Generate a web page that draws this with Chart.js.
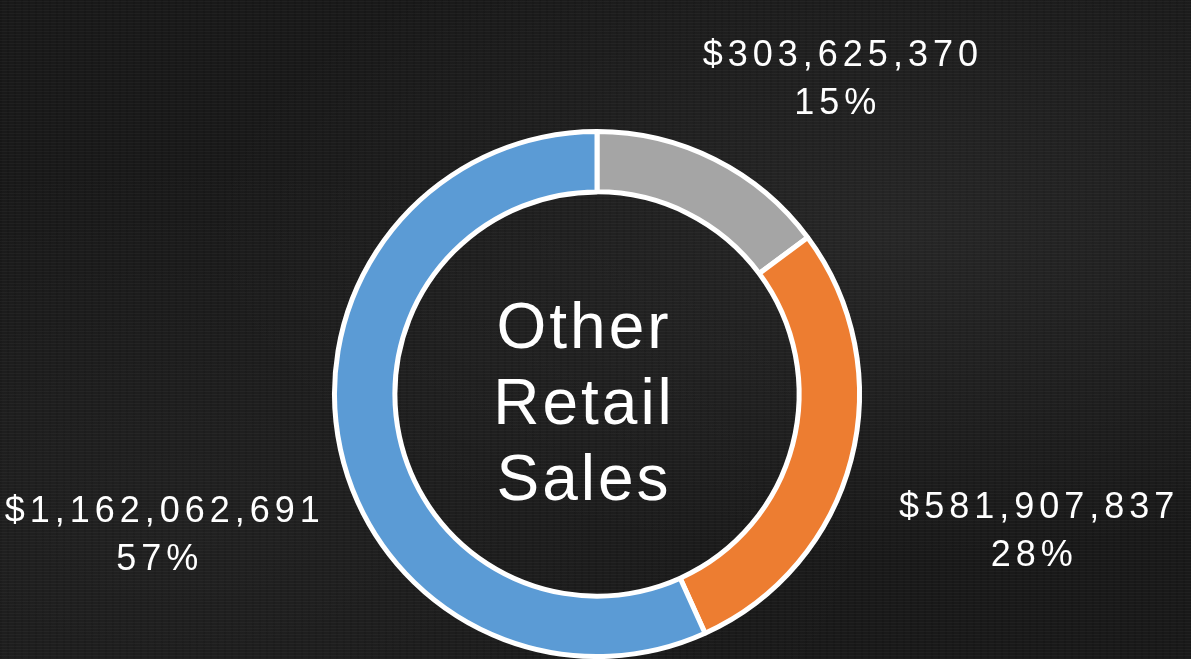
<!DOCTYPE html>
<html>
<head>
<meta charset="utf-8">
<script src="https://cdn.jsdelivr.net/npm/chart.js@4"></script>
<style>
  html, body { margin: 0; padding: 0; }
  body {
    width: 1191px; height: 659px; overflow: hidden;
    background-color: #191919;
    background-image:
      radial-gradient(ellipse at 75% 35%, rgba(255,255,255,0.06), transparent 55%),
      radial-gradient(ellipse at 15% 80%, rgba(255,255,255,0.035), transparent 50%),
      repeating-linear-gradient(0deg, rgba(255,255,255,0.03) 0 1px, transparent 1px 3px),
      repeating-linear-gradient(90deg, rgba(0,0,0,0.1) 0 2px, transparent 2px 7px);
  }
  #wrap { position: absolute; left: 0; top: 0; width: 1191px; height: 659px; }
</style>
</head>
<body>
<div id="wrap"><canvas id="myChart"></canvas></div>
<script>
// data
var labels = ["Gray", "Orange", "Blue"];
var values = [303625370, 581907837, 1162062691];
var colors = ["#A5A5A5", "#ED7D31", "#5B9BD5"];
var centerLines = ["Other", "Retail", "Sales"];

// label placement (angle nudge in degrees, distance in outer radii)
var labelNudge = [10.8, 2.5, -5.5];
var labelDist = [1.52, 1.75, 1.74];

var total = values.reduce(function (a, b) { return a + b; }, 0);

function money(v) {
  return "$" + v.toLocaleString("en-US");
}

var textPlugin = {
  id: "textPlugin",
  afterDatasetsDraw: function (chart) {
    var ctx = chart.ctx;
    var meta = chart.getDatasetMeta(0);
    var a0 = meta.data[0];
    var cx = a0.x, cy = a0.y, R = a0.outerRadius;

    ctx.save();
    ctx.fillStyle = "#ffffff";
    ctx.textAlign = "center";
    ctx.textBaseline = "alphabetic";

    // center title
    ctx.font = "64px 'Liberation Sans', Arial, sans-serif";
    ctx.letterSpacing = "3px";
    for (var i = 0; i < centerLines.length; i++) {
      ctx.fillText(centerLines[i], cx - 13, cy - 46 + i * 76);
    }

    // slice labels
    ctx.font = "36px 'Liberation Sans', Arial, sans-serif";
    ctx.letterSpacing = "5px";
    meta.data.forEach(function (arc, i) {
      var mid = (arc.startAngle + arc.endAngle) / 2 + labelNudge[i] * Math.PI / 180;
      var x = cx + Math.cos(mid) * R * labelDist[i];
      var y = cy + Math.sin(mid) * R * labelDist[i];
      var pct = Math.round(values[i] / total * 100) + "%";
      ctx.fillText(money(values[i]), x + 3, y - 11);
      ctx.fillText(pct, x - 2, y + 37);
    });
    ctx.restore();
  }
};

var ctx = document.getElementById("myChart").getContext("2d");
var myChart = new Chart(ctx, {
  type: "doughnut",
  data: {
    labels: labels,
    datasets: [
      {
        data: values,
        backgroundColor: colors,
        borderColor: "#ffffff",
        borderWidth: 5,
      },
    ],
  },
  options: {
    responsive: true,
    maintainAspectRatio: false,
    animation: false,
    cutout: "77%",
    layout: { padding: { top: 129, bottom: 0, left: 3, right: 0 } },
    plugins: {
      legend: { display: false },
      tooltip: { enabled: false },
    },
  },
  plugins: [textPlugin],
});
</script>
</body>
</html>
